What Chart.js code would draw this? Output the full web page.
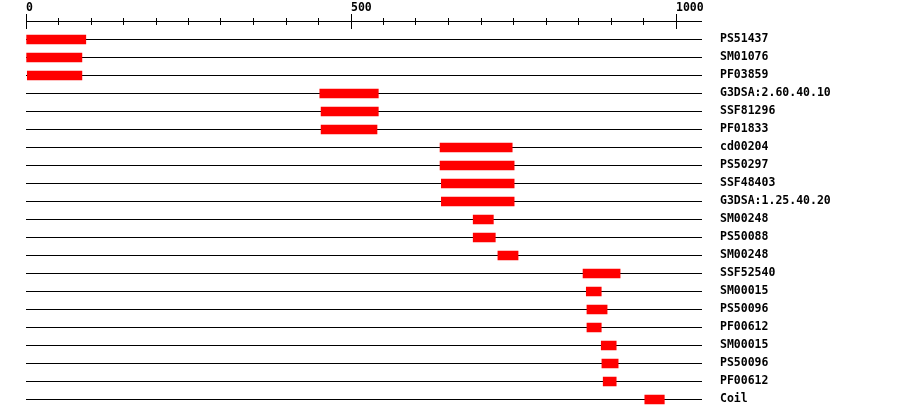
<!DOCTYPE html>
<html>
<head>
<meta charset="utf-8">
<script src="https://cdn.jsdelivr.net/npm/chart.js@4.4.1/dist/chart.umd.min.js"></script>
<style>
  html, body { margin: 0; padding: 0; background: #fff; }
  #wrap { width: 900px; height: 418px; }
</style>
</head>
<body>
<div id="wrap"><canvas id="domains" width="900" height="418"></canvas></div>
<script>
// ---- data ----
const domainNames = [
  "PS51437", "SM01076", "PF03859", "G3DSA:2.60.40.10", "SSF81296", "PF01833",
  "cd00204", "PS50297", "SSF48403", "G3DSA:1.25.40.20", "SM00248", "PS50088",
  "SM00248", "SSF52540", "SM00015", "PS50096", "PF00612", "SM00015",
  "PS50096", "PF00612", "Coil"
];
const domainStart = [1, 1, 2, 452, 454, 454, 637, 637, 639, 639, 688, 688, 726, 857, 862, 863, 863, 885, 886, 888, 952];
const domainEnd   = [92, 86, 86, 542, 542, 540, 748, 751, 751, 751, 719, 722, 757, 914, 885, 894, 885, 908, 911, 908, 982];
const labelledTicks = [0, 500, 1000];
const seqMax = 1040;

const monoFont = { family: "'DejaVu Sans Mono', monospace", size: 11.5, weight: "bold" };

// ruler on top: axis line + crossing tick marks, placed with the x scale
const rulerPlugin = {
  id: "ruler",
  afterDraw(chart) {
    const { ctx, chartArea } = chart;
    const xs = chart.scales.x;
    const axisY = chartArea.top - 9;
    ctx.save();
    ctx.strokeStyle = "#000";
    ctx.lineWidth = 1;
    ctx.beginPath();
    ctx.moveTo(chartArea.left, axisY);
    ctx.lineTo(chartArea.right, axisY);
    xs.ticks.forEach(t => {
      if (t.value % 50 !== 0) return;
      const x = Math.floor(xs.getPixelForValue(t.value)) + 0.5;
      const h = labelledTicks.includes(t.value) ? 7.5 : 3.5;
      ctx.moveTo(x, axisY - h);
      ctx.lineTo(x, axisY + h);
    });
    ctx.stroke();
    ctx.restore();
  }
};

const bars = domainStart.map((s, i) => [s, domainEnd[i]]);

new Chart(document.getElementById("domains"), {
  type: "bar",
  data: {
    labels: domainNames,
    datasets: [{
      data: bars,
      backgroundColor: "#ff0000",
      borderWidth: 0,
      barThickness: 9
    }]
  },
  options: {
    indexAxis: "y",
    responsive: false,
    animation: false,
    layout: { padding: { left: 26, right: 0, top: 0, bottom: 9.5 } },
    plugins: { legend: { display: false }, tooltip: { enabled: false } },
    scales: {
      x: {
        position: "top",
        min: 0,
        max: seqMax,
        grid: { display: false, drawTicks: false },
        border: { display: false },
        ticks: {
          stepSize: 50,
          includeBounds: false,
          autoSkip: false,
          maxRotation: 0,
          align: "start",
          padding: 16,
          color: "#000",
          font: monoFont,
          callback: v => labelledTicks.includes(v) ? String(v) : ""
        },
        afterFit: s => { s.height = 30.5; }
      },
      y: {
        position: "right",
        grid: { offset: false, drawTicks: true, tickLength: 18, tickColor: "rgba(0,0,0,0)", color: "#000", lineWidth: 1 },
        border: { display: false },
        ticks: { padding: 0, color: "#000", font: monoFont, autoSkip: false },
        afterFit: s => { s.width = 198; }
      }
    }
  },
  plugins: [rulerPlugin]
});
</script>
</body>
</html>
